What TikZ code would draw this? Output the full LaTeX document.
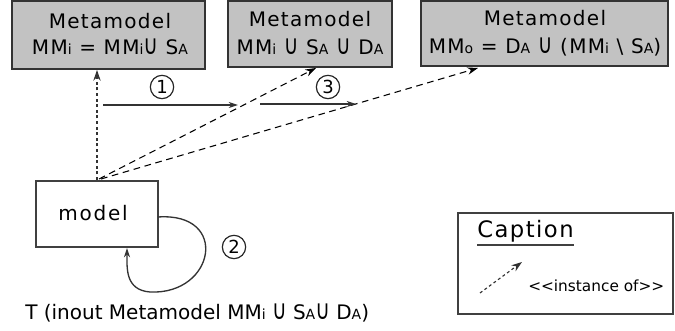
\documentclass[tikz,border=0pt]{standalone}
\usepackage{fontspec}
\usepackage{graphicx}
\setmainfont{DejaVu Sans}
\newfontfamily\spaced[LetterSpace=6.5]{DejaVu Sans}
\usetikzlibrary{arrows.meta}
\newcommand\sbs[1]{{\fontsize{10.5pt}{10.5pt}\selectfont #1}}
\newcommand\un{\scalebox{1}[1.35]{∪}}
\tikzset{
  meta/.style={draw=black!80, line width=1.1pt, fill=black!24, inner sep=0pt},
  plain/.style={draw=black!75, line width=0.8pt, fill=white, inner sep=0pt},
  txt/.style={inner sep=0pt, font=\spaced\fontsize{15pt}{18pt}\selectfont, align=center},
  num/.style={circle, draw=black!85, line width=0.9pt, minimum size=17.5pt, inner sep=0pt, font=\fontsize{13.5pt}{14pt}\selectfont},
  inst/.style={dash pattern=on 5pt off 3.5pt, line width=0.8pt, -{Stealth[length=8pt,width=5.5pt]}},
  instdot/.style={dash pattern=on 2.2pt off 2pt, line width=0.85pt, draw=black!80, -{Stealth[length=8pt,width=5.5pt]}},
  flow/.style={line width=0.8pt, draw=black!80, -{Stealth[length=7pt,width=4.5pt]}}
}
\begin{document}
\begin{tikzpicture}[x=0.75pt, y=-0.75pt]
\useasboundingbox (0,0) rectangle (675,331);
% metamodel boxes
\path[meta] (12,1) rectangle (205,69);
\path[meta] (228,1) rectangle (392,67);
\path[meta] (421,1) rectangle (668,66);
\node[txt] (m1a) at (110,21) {Metamodel};
\node[txt] (m1b) at (110,47) {MM\sbs{i} = MM\sbs{i}\un\ S\sbs{A}};
\node[txt] (m2a) at (310,19) {Metamodel};
\node[txt] (m2b) at (310,47) {MM\sbs{i} \un\ S\sbs{A} \un\ D\sbs{A}};
\node[txt] (m3a) at (545,18) {Metamodel};
\node[txt] (m3b) at (545,47) {MM\sbs{o} = D\sbs{A} \un\ (MM\sbs{i} \textbackslash\ S\sbs{A})};
\coordinate (b1) at (97,70);
\coordinate (b2) at (316,68);
\coordinate (b3) at (478,68);
% model box
\path[plain] (36,181) rectangle (158,247);
\node[txt, font=\fontsize{15pt}{18pt}\addfontfeature{LetterSpace=9}\selectfont] (model) at (93,213) {model};
\coordinate (mt1) at (97,180);
\coordinate (mt2) at (99,179);
\coordinate (mt3) at (101,179);
\coordinate (mr) at (158,217);
\coordinate (mb) at (127,248);
% instance-of arrows
\draw[instdot] (mt1) -- (b1);
\draw[inst] (mt2) -- (b2);
\draw[inst] (mt3) -- (b3);
% steps
\coordinate (s1a) at (103,105);
\coordinate (s1b) at (238,105);
\coordinate (s3a) at (260,104);
\coordinate (s3b) at (356,104);
\draw[flow] (s1a) -- (s1b);
\draw[flow] (s3a) -- (s3b);
\node[num] (n1) at (162,87) {1};
\node[num] (n3) at (328,87) {3};
\node[num] (n2) at (234,247) {2};
\draw[flow, line width=1pt] (mr) .. controls (230,212) and (215,295) .. (150,292) .. controls (125,290) and (127,268) .. (mb);
\node[inner sep=0pt, font=\fontsize{15pt}{18pt}\selectfont, anchor=west] (tlabel) at (25,313) {T (inout Metamodel MM\sbs{i} \un\ S\sbs{A}\un\ D\sbs{A})};
% caption
\path[plain, draw=black!75, line width=1pt] (458,213) rectangle (673,314);
\node[inner sep=0pt, font=\spaced\fontsize{17pt}{18pt}\selectfont, anchor=west] (cap) at (477,231) {Caption};
\draw[line width=1.6pt, draw=black!75] (cap.south west) ++(0,2.5) coordinate (u1) -- (u1 -| cap.east);
\coordinate (ca) at (480,293);
\coordinate (cb) at (522,262);
\draw[instdot] (ca) -- (cb);
\node[inner sep=0pt, anchor=west, font=\fontsize{11.5pt}{12pt}\selectfont] (io) at (528,286) {\symbol{60}\symbol{60}instance of\symbol{62}\symbol{62}};
\end{tikzpicture}
\end{document}
